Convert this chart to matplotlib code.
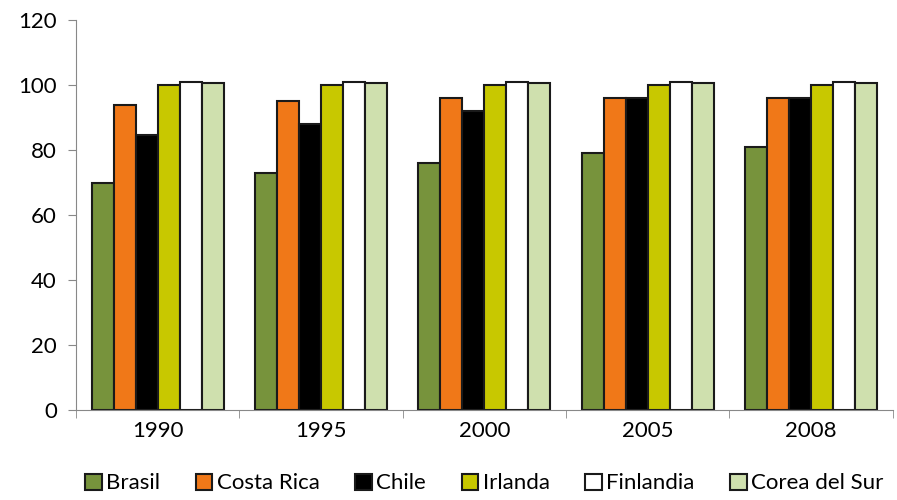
import numpy as np
import matplotlib
matplotlib.use("Agg")
from matplotlib import pyplot as plt

years = ['1990', '1995', '2000', '2005', '2008']
countries = ['Brasil', 'Costa Rica', 'Chile', 'Irlanda', 'Finlandia', 'Corea del Sur']
brasil = [70, 73, 76, 79, 81]
costa_rica = [94, 95, 96, 96, 96]
chile = [84.5, 88, 92, 96, 96]
irlanda = [100, 100, 100, 100, 100]
finlandia = [101, 101, 101, 101, 101]
corea = [100.5, 100.5, 100.5, 100.5, 100.5]

series = [brasil, costa_rica, chile, irlanda, finlandia, corea]
colors = ['#77933C', '#F07818', '#000000', '#C8C800', '#FFFFFF', '#CFE0AE']

plt.rcParams['font.family'] = ['Lato', 'DejaVu Sans']

fig = plt.figure(figsize=(8.97, 5), dpi=100)
ax = fig.add_axes([0.085, 0.18, 0.91, 0.78])

x = np.arange(len(years))
w = 0.135
for i, (vals, c) in enumerate(zip(series, colors)):
    ax.bar(x + (i - 2.5) * w, vals, w, color=c, edgecolor='#1a1a1a', linewidth=1.5,
           label=countries[i])

ax.set_xlim(-0.5, len(years) - 0.5)
ax.set_ylim(0, 120)
ax.set_yticks(range(0, 121, 20))
ax.set_xticks(x)
ax.set_xticklabels(years)
ax.set_xticks(np.arange(-0.5, len(years)), minor=True)
ax.tick_params(axis='x', which='major', length=0, pad=8, labelsize=16)
ax.tick_params(axis='x', which='minor', length=6, color='#888888')
ax.tick_params(axis='y', length=6, color='#888888', labelsize=16, pad=8)
for s in ['top', 'right']:
    ax.spines[s].set_visible(False)
for s in ['left', 'bottom']:
    ax.spines[s].set_color('#888888')

ax.legend(loc='upper center', bbox_to_anchor=(0.5, -0.14), ncol=6, frameon=False,
          fontsize=16, handlelength=0.75, handleheight=0.75, handletextpad=0.2,
          columnspacing=1.6, borderaxespad=0)

plt.savefig('out.png', dpi=100)
